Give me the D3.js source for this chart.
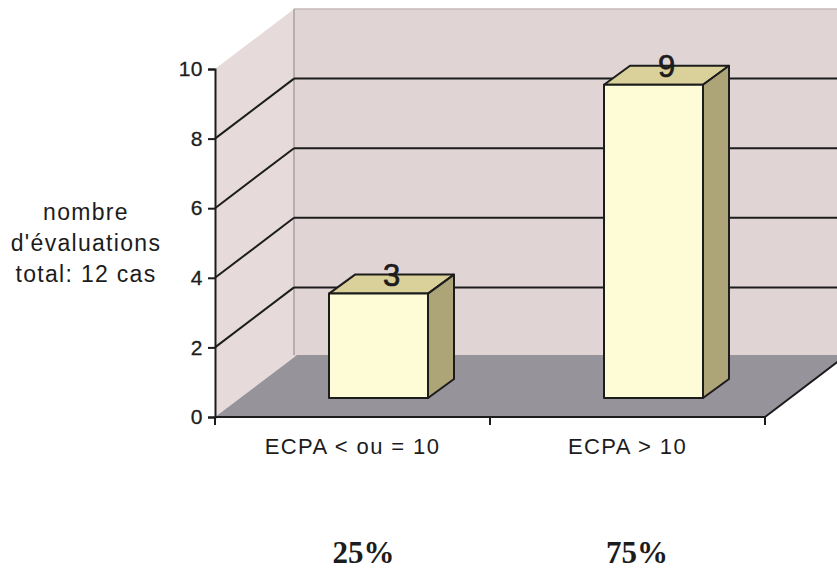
<!DOCTYPE html>
<html><head><meta charset="utf-8">
<script src="https://cdn.jsdelivr.net/npm/d3@7"></script>
<style>html,body{margin:0;padding:0;background:#fff}svg{display:block}</style>
</head><body><svg id="c" width="837" height="571"></svg>
<script>
const categories = ["ECPA < ou = 10", "ECPA > 10"];
const values = [3, 9];
const percents = ["25%", "75%"];
const yTicks = [0, 2, 4, 6, 8, 10];
const yTitle = ["nombre", "d'évaluations", "total: 12 cas"];

const svg = d3.select("#c");
const sans = "'Liberation Sans', Arial, sans-serif";
const ink = "#1c1c1c";
const y = d3.scaleLinear().domain([0, 10]).range([417, 69]);
const bandX = d3.scaleBand().domain(categories).range([215, 765]);
const depth = {dx: 79, dy: -60};
const floorDepth = {dx: 82, dy: -62};
const barDepth = {dx: 26, dy: -19};
const barWidth = 99;
const line = d3.line();
const poly = (pts, fill) => svg.append("path").attr("d", line(pts) + "Z").attr("fill", fill);
const seg = (a, b, col = ink, w = 2) => svg.append("line")
  .attr("x1", a[0]).attr("y1", a[1]).attr("x2", b[0]).attr("y2", b[1])
  .attr("stroke", col).attr("stroke-width", w);

const x0 = bandX.range()[0], xEnd = bandX.range()[1];
const top0 = y(10), bot0 = y(0);
const bx = x0 + depth.dx, bEnd = xEnd + depth.dx;

// walls and floor
poly([[bx, top0 + depth.dy], [bEnd + 20, top0 + depth.dy], [bEnd + 20, bot0 + depth.dy], [bx, bot0 + depth.dy]], "#e1d4d5");
poly([[x0, top0], [bx, top0 + depth.dy], [bx, bot0 + depth.dy], [x0, bot0]], "#e6dada");
poly([[x0, bot0], [x0 + floorDepth.dx, bot0 + floorDepth.dy], [xEnd + floorDepth.dx, bot0 + floorDepth.dy], [xEnd, bot0]], "#97939b");
seg([bx, top0 + depth.dy], [bEnd + 20, top0 + depth.dy], "#c4b9bb", 1.5);
seg([bx, top0 + depth.dy], [bx, bot0 + floorDepth.dy], "#a9a0a3", 1.5);

// gridlines
yTicks.filter(t => t > 0 && t < 10).forEach(t => {
  const yy = y(t);
  seg([x0, yy], [bx, yy + depth.dy]);
  seg([bx, yy + depth.dy], [bEnd + 20, yy + depth.dy]);
});

// bars
categories.forEach((c, i) => {
  const l = bandX(c) + bandX.bandwidth() / 2 - barWidth / 2 + barDepth.dx;
  const r = l + barWidth;
  const b = bot0 + barDepth.dy, t = b - (y(0) - y(values[i]));
  const d = [barDepth.dx, barDepth.dy];
  const stroke = (p, f) => poly(p, f).attr("stroke", ink).attr("stroke-width", 2).attr("stroke-linejoin", "round");
  stroke([[l, t], [r, t], [r + d[0], t + d[1]], [l + d[0], t + d[1]]], "#d9d09a");
  stroke([[r, t], [r + d[0], t + d[1]], [r + d[0], b + d[1]], [r, b]], "#ada578");
  stroke([[l, t], [r, t], [r, b], [l, b]], "#fdfcd6");
  svg.append("text").attr("x", (l + r) / 2 + 13).attr("y", t + d[1] + 11)
    .attr("text-anchor", "middle").attr("font-family", sans).attr("font-size", 31)
    .attr("stroke", ink).attr("stroke-width", 0.7).attr("fill", ink).text(values[i]);
});

// axes
const yAxis = d3.axisLeft(y).tickValues(yTicks).tickSize(7).tickPadding(5);
const gy = svg.append("g").attr("transform", `translate(${x0},0)`).call(yAxis);
gy.selectAll("text").attr("font-family", sans).attr("font-size", 21).attr("letter-spacing", 0.5)
  .attr("stroke", ink).attr("stroke-width", 0.3).attr("fill", ink);
gy.selectAll("path,line").attr("stroke", ink).attr("stroke-width", 2);

const xAxis = d3.axisBottom(bandX).tickValues([]).tickSize(0);
svg.append("g").attr("transform", `translate(0,${bot0})`).call(xAxis)
  .select("path").attr("stroke", ink).attr("stroke-width", 2).attr("d", `M${x0},0H${xEnd}`);
[...categories.map(c => bandX(c)), xEnd].forEach(v => seg([v, bot0], [v, bot0 + 8]));
seg([xEnd, bot0], [bEnd, bot0 + depth.dy]);

// category and percentage labels
categories.forEach((c, i) => {
  const cx = bandX(c) + bandX.bandwidth() / 2;
  svg.append("text").attr("x", cx).attr("y", 454).attr("text-anchor", "middle")
    .attr("font-family", sans).attr("font-size", 22).attr("fill", ink)
    .attr("letter-spacing", 1.4).text(c);
  svg.append("text").attr("x", cx + 11 + i * -1.5).attr("y", 563).attr("text-anchor", "middle")
    .attr("font-family", "'Liberation Serif', 'Times New Roman', serif").attr("font-weight", "bold")
    .attr("font-size", 31).attr("fill", ink).text(percents[i]);
});

// y title
yTitle.forEach((s, i) => svg.append("text").attr("x", 86).attr("y", 220 + i * 31)
  .attr("text-anchor", "middle").attr("font-family", sans).attr("font-size", 23)
  .attr("letter-spacing", 1.3).attr("fill", ink).text(s));
</script></body></html>
